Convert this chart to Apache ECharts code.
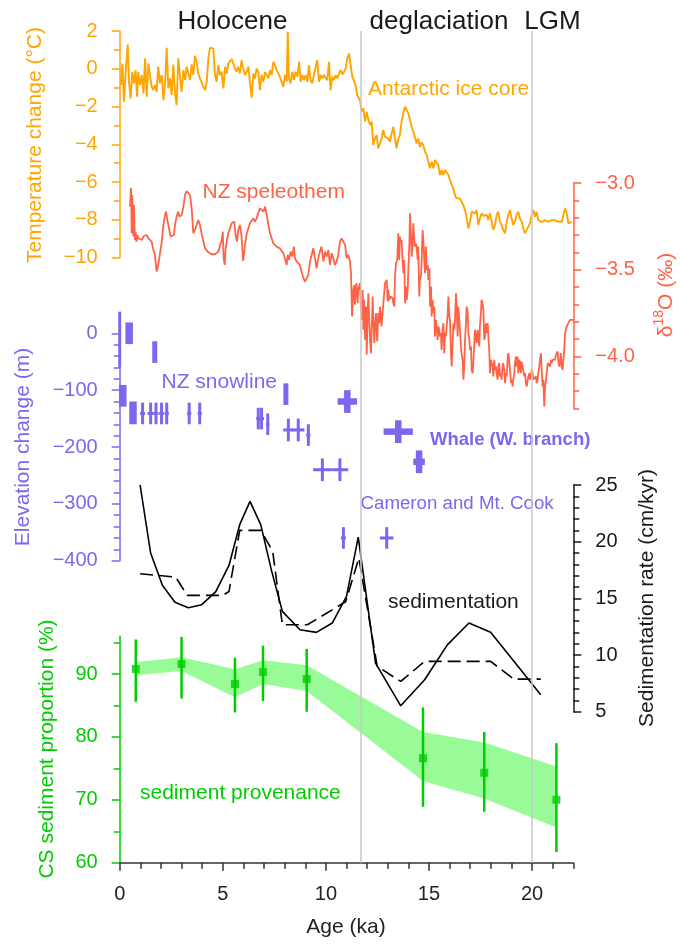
<!DOCTYPE html>
<html>
<head>
<meta charset="utf-8">
<script src="https://cdn.jsdelivr.net/npm/echarts@6/dist/echarts.min.js"></script>
<style>
  html, body { margin: 0; padding: 0; background: #ffffff; }
  #chart { width: 680px; height: 946px; }
</style>
</head>
<body>
<div id="chart"></div>
<script>
// ---------------- data ----------------
// Antarctic ice core temperature anomaly: [age ka, °C]
const iceCore = [
[0.06,-0.86],[0.13,0.28],[0.21,-1.74],[0.29,-0.16],[0.39,1.29],[0.45,-0.69],[0.53,-1.57],[0.61,-0.16],[0.69,-0.77],[0.77,-0.07],[0.84,-1.48],[0.90,-0.16],[0.98,-0.86],[1.07,-0.33],[1.15,-1.30],[1.23,0.55],[1.31,-1.48],[1.39,0.28],[1.47,-0.33],[1.55,-0.95],[1.63,-1.13],[1.71,-0.86],[1.79,-1.22],[1.87,0.11],[1.95,-0.77],[2.04,-0.33],[2.12,-1.66],[2.20,-0.77],[2.28,1.11],[2.36,-1.04],[2.44,-0.51],[2.52,-1.39],[2.60,0.23],[2.68,-1.30],[2.76,-1.92],[2.84,0.55],[2.92,-0.33],[3.00,-1.22],[3.09,-0.07],[3.17,-0.60],[3.25,0.11],[3.33,0.02],[3.41,-0.60],[3.49,0.23],[3.57,-0.33],[3.65,0.69],[3.73,0.37],[3.81,-0.25],[3.89,-0.51],[3.97,-0.60],[4.06,-0.95],[4.14,-1.13],[4.22,-0.69],[4.30,0.55],[4.38,1.11],[4.46,1.11],[4.54,1.08],[4.62,-0.33],[4.70,-0.69],[4.78,0.20],[4.86,-0.33],[4.94,-0.16],[5.03,-1.04],[5.11,0.11],[5.19,-0.25],[5.27,0.28],[5.35,0.20],[5.43,0.51],[5.51,0.28],[5.59,0.02],[5.67,-0.16],[5.75,0.11],[5.83,-0.25],[5.91,0.46],[5.99,0.02],[6.08,-0.33],[6.16,-0.16],[6.24,0.11],[6.32,-0.77],[6.40,-1.53],[6.48,-0.25],[6.56,-0.51],[6.64,0.02],[6.72,-0.16],[6.80,-1.13],[6.88,-0.33],[6.97,-0.69],[7.05,-0.16],[7.13,-0.07],[7.21,-0.51],[7.29,-0.07],[7.37,-0.33],[7.45,0.37],[7.53,0.20],[7.61,-0.07],[7.69,-0.16],[7.77,-0.42],[7.85,-0.69],[7.93,-0.95],[8.02,-0.33],[8.10,-0.69],[8.15,1.96],[8.21,-0.51],[8.29,-0.77],[8.37,-0.16],[8.45,-0.60],[8.53,-0.16],[8.62,-0.42],[8.70,0.37],[8.78,-0.69],[8.86,-0.33],[8.94,-0.60],[9.02,-0.33],[9.10,-0.69],[9.18,0.20],[9.26,-0.60],[9.34,-0.77],[9.42,-0.33],[9.50,-0.25],[9.58,0.46],[9.67,-0.69],[9.75,-0.33],[9.83,-0.51],[9.91,-0.33],[9.99,-0.33],[10.07,-0.60],[10.15,0.37],[10.23,-1.13],[10.31,-0.42],[10.39,-0.60],[10.47,-0.33],[10.55,-0.51],[10.64,-0.25],[10.72,-0.07],[10.80,-0.30],[10.88,-0.16],[10.96,0.02],[11.04,0.55],[11.12,0.81],[11.20,0.20],[11.28,-0.42],[11.36,-0.33],[11.44,-0.86],[11.52,-1.39],[11.65,-1.66],
[11.74,-2.27],[11.82,-2.10],[11.90,-2.80],[11.98,-2.27],[12.06,-2.71],[12.14,-2.98],[12.22,-2.80],[12.30,-4.04],[12.38,-3.69],[12.46,-3.51],[12.54,-4.21],[12.62,-4.21],[12.71,-3.69],[12.78,-3.24],[12.87,-3.60],[12.95,-3.51],[13.03,-3.69],[13.11,-3.86],[13.19,-3.42],[13.27,-3.07],[13.35,-3.69],[13.43,-4.21],[13.51,-3.69],[13.59,-3.51],[13.67,-2.80],[13.75,-2.36],[13.84,-2.01],[13.92,-2.19],[14.00,-2.36],[14.08,-2.71],[14.16,-3.07],[14.24,-3.33],[14.32,-3.60],[14.40,-3.95],[14.48,-3.69],[14.56,-4.13],[14.65,-3.90],[14.72,-4.04],[14.81,-4.39],[14.89,-4.57],[14.97,-4.48],[15.05,-5.27],[15.13,-4.92],[15.21,-5.27],[15.29,-4.83],[15.37,-4.74],[15.45,-5.10],[15.53,-5.62],[15.62,-5.36],[15.69,-5.62],[15.78,-5.36],[15.86,-5.27],[15.94,-5.62],[16.02,-5.89],[16.10,-5.98],[16.18,-6.33],[16.26,-6.68],[16.34,-6.86],[16.42,-6.77],[16.50,-6.86],[16.59,-6.95],[16.66,-7.21],[16.75,-7.48],[16.83,-7.92],[16.91,-8.45],[16.99,-8.09],[17.07,-7.56],[17.15,-7.48],[17.23,-7.65],[17.31,-7.48],[17.39,-8.27],[17.47,-7.92],[17.56,-7.65],[17.63,-7.78],[17.72,-7.71],[17.80,-7.74],[17.88,-8.01],[17.96,-7.65],[18.04,-8.09],[18.12,-8.53],[18.20,-8.27],[18.28,-7.74],[18.36,-7.56],[18.44,-8.09],[18.53,-8.27],[18.60,-8.53],[18.69,-8.71],[18.77,-8.09],[18.85,-7.74],[18.93,-7.48],[19.01,-7.92],[19.09,-8.27],[19.17,-8.09],[19.25,-7.74],[19.33,-7.56],[19.41,-7.92],[19.50,-8.09],[19.57,-8.45],[19.66,-8.71],[19.74,-8.53],[19.82,-8.62],[19.90,-8.18],[19.98,-7.74],[20.06,-7.48],
[20.14,-7.83],[20.22,-7.57],[20.30,-8.01],[20.38,-8.10],[20.47,-8.10],[20.63,-8.01],[20.71,-7.92],[20.79,-8.10],[20.87,-8.18],[20.95,-8.01],[21.11,-8.01],[21.19,-7.92],[21.27,-8.10],[21.44,-8.10],[21.51,-8.01],[21.60,-7.39],[21.68,-7.65],[21.76,-8.18],[21.84,-8.27],[21.92,-8.10]
];

// NZ speleothem δ18O: [age ka, ‰]
const speleothem = [
[0.50,-3.136],[0.55,-3.027],[0.58,-3.290],[0.61,-3.069],[0.66,-3.309],[0.69,-3.127],[0.74,-3.329],[0.77,-3.281],[0.81,-3.338],[0.86,-3.300],[0.90,-3.319],[0.98,-3.309],[1.07,-3.329],[1.15,-3.309],[1.23,-3.319],[1.31,-3.300],[1.39,-3.319],[1.47,-3.309],[1.55,-3.338],[1.63,-3.386],[1.71,-3.415],[1.79,-3.511],[1.84,-3.492],[1.92,-3.434],[2.04,-3.338],[2.12,-3.242],[2.20,-3.184],[2.25,-3.165],[2.31,-3.213],[2.39,-3.261],[2.47,-3.309],[2.55,-3.319],[2.63,-3.300],[2.68,-3.242],[2.76,-3.194],[2.84,-3.165],[2.89,-3.194],[2.96,-3.204],[3.01,-3.184],[3.09,-3.136],[3.17,-3.069],[3.25,-3.046],[3.33,-3.046],[3.41,-3.069],[3.49,-3.146],[3.57,-3.290],[3.65,-3.271],[3.73,-3.242],[3.81,-3.213],[3.89,-3.242],[3.97,-3.290],[4.06,-3.338],[4.14,-3.377],[4.30,-3.400],[4.46,-3.411],[4.62,-3.411],[4.78,-3.396],[4.95,-3.329],[5.00,-3.281],[5.04,-3.434],[5.09,-3.473],[5.14,-3.377],[5.20,-3.329],[5.27,-3.290],[5.35,-3.261],[5.43,-3.232],[5.51,-3.242],[5.56,-3.223],[5.62,-3.300],[5.69,-3.338],[5.75,-3.271],[5.83,-3.242],[5.91,-3.309],[5.99,-3.450],[6.08,-3.357],[6.16,-3.290],[6.24,-3.261],[6.32,-3.232],[6.40,-3.223],[6.48,-3.204],[6.56,-3.223],[6.64,-3.204],[6.72,-3.194],[6.80,-3.146],[6.88,-3.136],[6.97,-3.165],[7.05,-3.136],[7.13,-3.184],[7.21,-3.242],[7.29,-3.290],[7.37,-3.319],[7.45,-3.348],[7.53,-3.348],[7.61,-3.367],[7.69,-3.357],[7.77,-3.377],[7.85,-3.392],[7.94,-3.405],[8.02,-3.415],[8.10,-3.473],[8.15,-3.415],[8.21,-3.444],[8.29,-3.396],[8.37,-3.425],[8.45,-3.367],[8.50,-3.434],[8.58,-3.453],[8.66,-3.463],[8.74,-3.473],[8.82,-3.511],[8.91,-3.549],[8.99,-3.569],[9.07,-3.578],[9.15,-3.530],[9.23,-3.453],[9.31,-3.415],[9.39,-3.377],[9.47,-3.434],[9.55,-3.492],[9.63,-3.434],[9.71,-3.396],[9.79,-3.367],[9.88,-3.453],[9.96,-3.396],[10.04,-3.425],[10.12,-3.386],[10.20,-3.473],[10.28,-3.405],[10.36,-3.434],[10.44,-3.473],[10.52,-3.453],[10.60,-3.415],[10.68,-3.338],[10.76,-3.319],[10.85,-3.329],[10.93,-3.357],[11.01,-3.434],[11.09,-3.415],
[11.17,-3.453],[11.22,-3.521],[11.27,-3.770],[11.33,-3.617],[11.38,-3.588],[11.41,-3.703],[11.46,-3.598],[11.49,-3.578],[11.54,-3.694],[11.57,-3.617],[11.65,-3.578],[11.73,-3.790],[11.78,-3.617],[11.82,-3.847],[11.86,-3.674],[11.90,-3.905],[11.95,-3.713],[11.98,-3.991],[12.03,-3.732],[12.06,-3.636],[12.11,-3.809],[12.14,-3.905],[12.19,-3.982],[12.22,-3.847],[12.27,-3.655],[12.30,-3.790],[12.35,-3.924],[12.38,-3.828],[12.43,-3.751],[12.46,-3.847],[12.49,-3.915],[12.54,-3.751],[12.59,-3.809],[12.62,-3.713],[12.67,-3.770],[12.70,-3.828],[12.75,-3.751],[12.79,-3.742],[12.87,-3.578],[12.95,-3.559],[13.00,-3.684],[13.03,-3.617],[13.08,-3.674],[13.14,-3.655],[13.19,-3.646],[13.24,-3.665],[13.27,-3.694],[13.32,-3.713],[13.35,-3.540],[13.40,-3.463],[13.46,-3.444],[13.51,-3.290],[13.56,-3.444],[13.59,-3.309],[13.64,-3.348],[13.67,-3.329],[13.72,-3.444],[13.76,-3.521],[13.80,-3.444],[13.84,-3.694],[13.88,-3.598],[13.92,-3.674],[13.97,-3.617],[14.00,-3.492],[14.05,-3.348],[14.08,-3.175],[14.13,-3.309],[14.16,-3.425],[14.21,-3.357],[14.24,-3.232],[14.29,-3.329],[14.32,-3.367],[14.37,-3.348],[14.40,-3.367],[14.45,-3.444],[14.48,-3.367],[14.53,-3.655],[14.56,-3.559],[14.61,-3.540],[14.64,-3.463],[14.69,-3.271],[14.73,-3.329],[14.77,-3.444],[14.81,-3.521],[14.85,-3.367],[14.89,-3.501],[14.94,-3.473],[14.97,-3.559],[15.02,-3.492],[15.05,-3.713],[15.10,-3.598],[15.13,-3.770],[15.18,-3.674],[15.21,-3.751],[15.26,-3.713],[15.29,-3.886],[15.34,-3.790],[15.37,-3.828],[15.42,-3.905],[15.45,-3.828],[15.50,-3.847],[15.53,-3.886],[15.58,-3.866],[15.61,-3.963],[15.66,-3.847],[15.70,-3.809],[15.74,-3.982],[15.78,-3.866],[15.82,-3.886],[15.86,-3.886],[15.91,-3.751],[15.94,-3.655],[15.99,-3.770],[16.02,-3.790],[16.07,-3.982],[16.10,-4.059],[16.15,-3.924],[16.18,-3.809],[16.23,-3.847],[16.26,-3.790],[16.31,-3.636],[16.34,-3.713],[16.39,-3.886],[16.42,-3.713],[16.47,-3.790],[16.50,-3.847],[16.55,-3.943],[16.58,-3.982],[16.63,-4.020],[16.67,-4.135],[16.71,-4.059],[16.75,-3.905],[16.80,-3.790],[16.83,-3.713],[16.88,-3.751],[16.91,-3.866],[16.96,-3.905],[16.99,-3.963],[17.04,-3.943],[17.07,-4.078],[17.12,-4.097],[17.15,-4.039],[17.20,-3.924],[17.23,-3.847],[17.28,-3.886],[17.31,-3.924],[17.36,-3.847],[17.39,-3.886],[17.44,-3.943],[17.47,-3.828],[17.52,-3.751],[17.55,-3.674],[17.60,-3.694],[17.64,-3.732],[17.68,-3.905],[17.72,-3.886],[17.76,-3.809],[17.80,-3.866],[17.85,-3.809],[17.88,-3.886],[17.93,-3.982],[17.96,-4.097],[18.01,-4.020],[18.04,-4.030],[18.09,-4.059],[18.12,-4.116],[18.17,-4.020],[18.20,-4.078],[18.25,-4.059],[18.28,-4.097],[18.33,-4.135],[18.36,-4.059],[18.41,-4.039],[18.44,-4.116],[18.49,-4.097],[18.52,-4.135],[18.57,-4.059],[18.60,-4.039],[18.65,-4.078],[18.69,-4.155],[18.73,-4.097],[18.77,-4.116],[18.82,-4.001],[18.85,-3.982],[18.90,-4.039],[18.93,-4.078],[18.98,-4.155],[19.01,-4.135],[19.06,-4.174],[19.09,-4.135],[19.14,-4.097],[19.17,-4.039],[19.22,-4.001],[19.25,-4.059],[19.30,-4.001],[19.33,-4.097],[19.38,-4.020],[19.41,-4.039],[19.46,-4.097],[19.49,-4.030],[19.54,-4.059],[19.58,-4.087],[19.62,-4.116],[19.66,-4.097],[19.70,-4.155],[19.74,-4.174],[19.79,-4.135],[19.82,-4.116],[19.87,-4.097],[19.90,-4.135],[19.95,-4.116],[19.98,-4.078],[20.03,-4.097],[20.06,-4.135],[20.11,-4.145],[20.14,-4.126],[20.19,-4.116],[20.22,-4.155],[20.27,-4.135],[20.30,-4.097],[20.35,-4.059],[20.38,-4.020],[20.43,-3.982],[20.46,-4.059],[20.51,-4.174],[20.55,-4.135],[20.59,-4.289],[20.63,-4.174],[20.68,-4.135],[20.71,-4.135],[20.76,-4.039],[20.79,-4.049],[20.84,-4.039],[20.87,-4.059],[20.92,-4.020],[20.95,-4.039],[21.00,-4.020],[21.03,-4.030],[21.08,-4.011],[21.11,-4.020],[21.16,-3.991],[21.19,-3.982],[21.24,-3.972],[21.27,-4.020],[21.32,-4.059],[21.35,-4.030],[21.40,-3.982],[21.43,-4.059],[21.48,-4.078],[21.51,-4.087],[21.56,-3.963],[21.60,-3.866],[21.64,-3.847],[21.68,-3.828],[21.72,-3.818],[21.76,-3.809],[21.84,-3.790],[21.92,-3.780],[22.00,-3.790]
];

// NZ snowline elevation change (m): thin error crosses
const snowAge      = [0.00, 1.11, 1.50, 1.76, 2.03, 2.28, 3.37, 3.88, 6.72, 6.88, 7.18, 8.18, 8.66, 9.15, 9.83, 10.68];
const snowElev     = [-11, -141, -141, -141, -141, -141, -141, -141, -150, -150, -160, -170, -170, -179, -240, -240];
const snowAgeErr   = [0, 0.12, 0.15, 0.12, 0.12, 0.10, 0.10, 0.10, 0.10, 0.12, 0.08, 0.25, 0.30, 0.10, 0.45, 0.40];
const snowElevErr  = [49, 19, 19, 19, 19, 19, 19, 19, 19, 19, 19, 20, 20, 19, 20, 20];
// clustered snowline estimates (overlapping bars)
const snowWideAge     = [0.15, 0.46, 0.645];
const snowWideElev    = [-110, 0, -140];
const snowWideElevErr = [19, 19, 20];
const snowMidAge      = [1.70, 8.06];
const snowMidElev     = [-33, -107];
const snowMidElevErr  = [19, 19];
// Whale glacier (western branch)
const whaleAge     = [11.04, 13.51, 14.52];
const whaleElev    = [-120, -173, -226];
const whaleAgeErr  = [0.47, 0.71, 0.28];
const whaleElevErr = [20, 20, 20];
// Cameron and Mt. Cook
const cookAge      = [10.85, 12.95];
const cookElev     = [-360, -360];
const cookAgeErr   = [0.12, 0.33];
const cookElevErr  = [19, 19];

// sedimentation rate (cm/kyr)
const sedAge  = [0.99, 1.5, 2.07, 2.68, 3.33, 3.98, 4.66, 5.3, 5.82, 6.32, 6.84, 7.37, 7.89, 8.74, 9.54, 10.31, 11.0, 11.57, 12.41, 13.63, 14.79, 15.89, 16.94, 17.99, 19.12, 20.42];
const sedRate = [25.0, 19.0, 16.15, 14.65, 14.17, 14.44, 15.6, 17.9, 21.5, 23.56, 21.5, 17.4, 13.85, 12.23, 12.0, 12.82, 15.18, 20.4, 9.29, 5.52, 7.82, 10.9, 12.82, 12.0, 9.44, 6.49];
const sedAvgAge  = [0.99, 2.71, 3.28, 5.0, 5.3, 5.82, 6.84, 7.42, 7.89, 9.1, 10.96, 11.6, 12.49, 13.63, 14.79, 17.99, 19.12, 20.42];
const sedAvgRate = [17.17, 16.88, 15.26, 15.26, 15.6, 21.0, 21.0, 19.15, 12.67, 12.67, 14.7, 18.56, 9.0, 7.67, 9.44, 9.44, 7.87, 7.87];

// CS sediment proportion (%)
const provAge     = [0.78, 3.0, 5.59, 6.95, 9.07, 14.71, 17.68, 21.18];
const provPct     = [90.8, 91.6, 88.4, 90.3, 89.2, 76.6, 74.3, 70.0];
const provErrLow  = [85.6, 86.1, 83.9, 85.7, 84.0, 68.9, 68.1, 61.7];
const provErrHigh = [95.5, 95.9, 92.6, 94.5, 94.0, 84.7, 80.8, 79.0];
const bandLow     = [89.8, 90.5, 86.3, 88.4, 87.3, 73.0, 70.2, 65.6];
const bandHigh    = [91.9, 92.65, 90.75, 92.2, 91.4, 80.8, 79.1, 75.3];

// period boundaries (ka) and names
const phaseBounds = [11.7, 20];
const phaseNames  = ['Holocene', 'deglaciation', 'LGM'];

// tick values
const ageMajor   = [0, 5, 10, 15, 20];
const ageMinor   = [1, 2, 3, 4, 6, 7, 8, 9, 11, 12, 13, 14, 16, 17, 18, 19, 21, 22];
const tempMajor  = [-10, -8, -6, -4, -2, 0, 2];
const tempMinor  = [-9, -7, -5, -3, -1, 1];
const d18Major   = [-4.0, -3.5, -3.0];
const d18Minor   = [-4.3, -4.2, -4.1, -3.9, -3.8, -3.7, -3.6, -3.4, -3.3, -3.2, -3.1];
const elevMajor  = [-400, -300, -200, -100, 0];
const elevMinor  = [-380, -360, -340, -320, -280, -260, -240, -220, -180, -160, -140, -120, -80, -60, -40, -20];
const sedMajor   = [5, 10, 15, 20, 25];
const sedMinor   = [6, 7, 8, 9, 11, 12, 13, 14, 16, 17, 18, 19, 21, 22, 23, 24];
const provMajor  = [60, 70, 80, 90];
const provMinor  = [65, 75, 85, 95];

// ---------------- styling ----------------
const FONT = '"Liberation Sans", Arial, Helvetica, sans-serif';
const ORANGE = '#FFA500';
const TOMATO = '#FF6347';
const PURPLE = '#7B68EE';
const GREEN = '#00CD00';
const PALEGREEN = '#98FB98';
const INK = '#1a1a1a';
const AXISGREY = '#333333';

const minusFmt = v => (v < 0 ? '\u2212' : '') + Math.abs(v);
const minusFmt1 = v => (v < 0 ? '\u2212' : '') + Math.abs(v).toFixed(1);

const LEFT = 119.7, WIDTH = 453.6;
const grids = [
  { left: LEFT, width: WIDTH, top: 31, height: 831.7 },   // period separators
  { left: LEFT, width: WIDTH, top: 31, height: 226.7 },   // temperature
  { left: LEFT, width: WIDTH, top: 183, height: 225.3 },  // δ18O
  { left: LEFT, width: WIDTH, top: 333.3, height: 227.4 },// elevation
  { left: LEFT, width: WIDTH, top: 485, height: 226.7 },  // sedimentation
  { left: LEFT, width: WIDTH, top: 636.3, height: 226.4 } // provenance
];

function yPair(grid, min, max, major, minor, color, side, fmt) {
  const base = { type: 'value', gridIndex: grid, min, max, position: side, splitLine: { show: false } };
  return [
    Object.assign({}, base, {
      axisLine: { show: true, onZero: false, lineStyle: { color, width: 1.5 } },
      axisTick: { show: true, length: 8, customValues: major, lineStyle: { color, width: 1.5 } },
      axisLabel: { show: true, customValues: major, formatter: fmt, color, fontSize: 20, fontFamily: FONT, margin: 22 }
    }),
    Object.assign({}, base, {
      axisLine: { show: false, onZero: false },
      axisTick: { show: true, length: 6, customValues: minor, lineStyle: { color, width: 1.5 } },
      axisLabel: { show: false }
    })
  ];
}

const yAxes = [].concat(
  yPair(1, -10, 2, tempMajor, tempMinor, ORANGE, 'left', minusFmt),       // 0,1
  yPair(2, -4.3, -3.0, d18Major, d18Minor, TOMATO, 'right', minusFmt1),   // 2,3
  yPair(3, -400, 0, elevMajor, elevMinor, PURPLE, 'left', minusFmt),      // 4,5
  yPair(4, 5, 25, sedMajor, sedMinor, INK, 'right', minusFmt),            // 6,7
  yPair(5, 60, 96, provMajor, provMinor, GREEN, 'left', minusFmt),        // 8,9
  [{ type: 'value', gridIndex: 0, min: 0, max: 1, show: false }]          // 10
);

const xAxes = [0, 1, 2, 3, 4].map(g => ({ type: 'value', gridIndex: g, min: 0, max: 22, show: false }));
xAxes.push({
  type: 'value', gridIndex: 5, min: 0, max: 22, position: 'bottom', splitLine: { show: false },
  axisLine: { show: true, onZero: false, lineStyle: { color: AXISGREY, width: 1.5 } },
  axisTick: { show: true, length: 8, customValues: ageMajor, lineStyle: { color: AXISGREY, width: 1.5 } },
  axisLabel: { show: true, customValues: ageMajor, color: '#222', fontSize: 20, fontFamily: FONT, margin: 22 }
});
xAxes.push({
  type: 'value', gridIndex: 5, min: 0, max: 22, position: 'bottom', splitLine: { show: false },
  axisLine: { show: false, onZero: false },
  axisTick: { show: true, length: 6, customValues: ageMinor, lineStyle: { color: AXISGREY, width: 1.5 } },
  axisLabel: { show: false }
});

// error-cross renderer for elevation markers
function crossSeries(ages, elevs, ageErrs, elevErrs, width) {
  return {
    type: 'custom', xAxisIndex: 3, yAxisIndex: 4, z: 6, silent: true,
    data: ages.map((a, i) => [a, elevs[i], ageErrs[i], elevErrs[i]]),
    encode: { x: 0, y: 1 },
    renderItem: function (params, api) {
      const a = api.value(0), e = api.value(1), da = api.value(2), de = api.value(3);
      const c = api.coord([a, e]);
      const top = api.coord([a, e + de]);
      const bot = api.coord([a, e - de]);
      const style = { stroke: PURPLE, lineWidth: width, lineCap: 'butt' };
      const children = [{ type: 'line', shape: { x1: c[0], y1: top[1], x2: c[0], y2: bot[1] }, style }];
      if (da > 0) {
        const l = api.coord([a - da, e]);
        const r = api.coord([a + da, e]);
        children.push({ type: 'line', shape: { x1: l[0], y1: c[1], x2: r[0], y2: c[1] }, style });
      }
      return { type: 'group', children };
    }
  };
}

const series = [
  // period separators
  {
    type: 'line', xAxisIndex: 0, yAxisIndex: 10, data: [], z: 1, silent: true,
    markLine: {
      symbol: 'none', silent: true, label: { show: false },
      lineStyle: { color: '#c8c8c8', width: 1.5, type: 'solid' },
      data: phaseBounds.map(v => ({ xAxis: v }))
    }
  },
  {
    name: 'Antarctic ice core', type: 'line', xAxisIndex: 1, yAxisIndex: 0, z: 4,
    data: iceCore, showSymbol: false, lineStyle: { color: ORANGE, width: 1.9 }
  },
  {
    name: 'NZ speleothem', type: 'line', xAxisIndex: 2, yAxisIndex: 2, z: 4,
    data: speleothem, showSymbol: false, lineStyle: { color: TOMATO, width: 1.8 }
  },
  crossSeries(snowAge, snowElev, snowAgeErr, snowElevErr, 3),
  crossSeries(snowWideAge, snowWideElev, snowWideAge.map(() => 0), snowWideElevErr, 7.5),
  crossSeries(snowMidAge, snowMidElev, snowMidAge.map(() => 0), snowMidElevErr, 5),
  crossSeries(whaleAge, whaleElev, whaleAgeErr, whaleElevErr, 6.5),
  crossSeries(cookAge, cookElev, cookAgeErr, cookElevErr, 3),
  {
    name: 'sedimentation', type: 'line', xAxisIndex: 4, yAxisIndex: 6, z: 4,
    data: sedAge.map((a, i) => [a, sedRate[i]]), showSymbol: false,
    lineStyle: { color: '#000', width: 1.6 }
  },
  {
    name: 'sedimentation (mean)', type: 'line', xAxisIndex: 4, yAxisIndex: 6, z: 4,
    data: sedAvgAge.map((a, i) => [a, sedAvgRate[i]]), showSymbol: false,
    lineStyle: { color: '#000', width: 1.6, type: [13, 6] }
  },
  // provenance envelope
  {
    type: 'custom', xAxisIndex: 5, yAxisIndex: 8, z: 2, silent: true,
    data: provAge.map((a, i) => [a, bandLow[i], bandHigh[i]]),
    encode: { x: 0, y: [1, 2] },
    renderItem: function (params, api) {
      if (params.dataIndex !== 0) return null;
      const upper = provAge.map((a, i) => api.coord([a, bandHigh[i]]));
      const lower = provAge.map((a, i) => api.coord([a, bandLow[i]])).reverse();
      return { type: 'polygon', shape: { points: upper.concat(lower) }, style: { fill: PALEGREEN } };
    }
  },
  // provenance error bars
  {
    type: 'custom', xAxisIndex: 5, yAxisIndex: 8, z: 5, silent: true,
    data: provAge.map((a, i) => [a, provPct[i], provErrLow[i], provErrHigh[i]]),
    encode: { x: 0, y: 1 },
    renderItem: function (params, api) {
      const lo = api.coord([api.value(0), api.value(2)]);
      const hi = api.coord([api.value(0), api.value(3)]);
      return { type: 'line', shape: { x1: lo[0], y1: lo[1], x2: hi[0], y2: hi[1] }, style: { stroke: GREEN, lineWidth: 2.5 } };
    }
  },
  {
    name: 'sediment provenance', type: 'scatter', xAxisIndex: 5, yAxisIndex: 8, z: 6,
    data: provAge.map((a, i) => [a, provPct[i]]), symbol: 'rect', symbolSize: 8,
    itemStyle: { color: GREEN }
  }
];

function label(x, y, text, color, size, extra) {
  return Object.assign({
    type: 'text', x, y, silent: true,
    style: Object.assign({ text, fill: color, fontSize: size, fontFamily: FONT, align: 'left', verticalAlign: 'middle' }, extra || {})
  });
}
function vtitle(x, y, text, color) {
  return {
    type: 'text', x, y, rotation: Math.PI / 2, silent: true,
    style: { text, fill: color, fontSize: 21, fontFamily: FONT, align: 'center', verticalAlign: 'middle' }
  };
}

const graphics = [
  label(232.5, 22, phaseNames[0], INK, 26, { align: 'center' }),
  label(439, 22, phaseNames[1], INK, 26, { align: 'center' }),
  label(552.5, 22, phaseNames[2], INK, 26, { align: 'center' }),
  label(368, 89, 'Antarctic ice core', ORANGE, 21),
  label(202.5, 192, 'NZ speleothem', TOMATO, 21),
  label(161.5, 382.5, 'NZ snowline', PURPLE, 21),
  label(430, 440, 'Whale (W. branch)', PURPLE, 18.5, { fontWeight: 'bold' }),
  label(360.5, 503.5, 'Cameron and Mt. Cook', PURPLE, 18.7),
  label(388, 602.5, 'sedimentation', INK, 21),
  label(140, 793, 'sediment provenance', GREEN, 21),
  label(346, 927, 'Age (ka)', '#222', 21, { align: 'center' }),
  vtitle(35, 145, 'Temperature change (\u00B0C)', ORANGE),
  vtitle(23, 447, 'Elevation change (m)', PURPLE),
  vtitle(47, 749, 'CS sediment proportion (%)', GREEN),
  vtitle(647, 598, 'Sedimentation rate (cm/kyr)', INK),
  {
    type: 'text', x: 666, y: 295, rotation: Math.PI / 2, silent: true,
    style: {
      text: '{n|\u03B4}{s|18}{n|O (\u2030)}', align: 'center', verticalAlign: 'middle',
      fill: TOMATO, fontSize: 21, fontFamily: FONT,
      rich: {
        n: { fontSize: 21, fontFamily: FONT, fill: TOMATO, lineHeight: 27 },
        s: { fontSize: 14, fontFamily: FONT, fill: TOMATO, verticalAlign: 'top', lineHeight: 16 }
      }
    }
  }
];

const chart = echarts.init(document.getElementById('chart'), null, { renderer: 'canvas' });
chart.setOption({
  animation: false,
  backgroundColor: '#ffffff',
  grid: grids,
  xAxis: xAxes,
  yAxis: yAxes,
  series: series,
  graphic: { elements: graphics }
});
</script>
</body>
</html>
